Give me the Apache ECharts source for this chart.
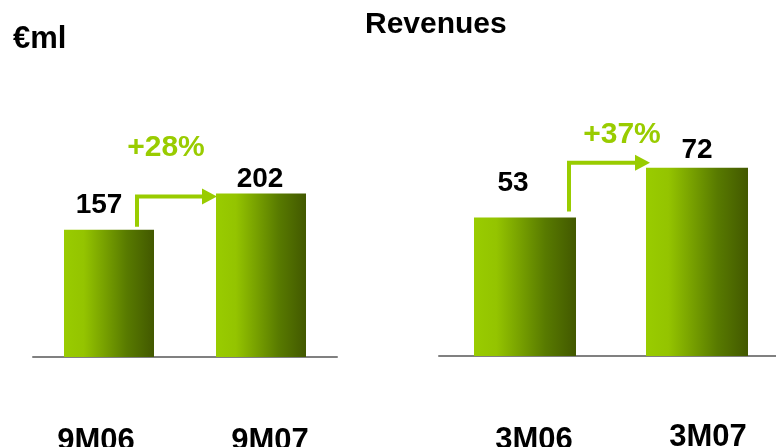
<!DOCTYPE html>
<html>
<head>
<meta charset="utf-8">
<script src="https://cdn.jsdelivr.net/npm/echarts@6/dist/echarts.min.js"></script>
<style>
  html, body { margin: 0; padding: 0; background: #ffffff; }
  #chart { width: 776px; height: 447px; }
</style>
</head>
<body>
<div id="chart"></div>
<script>
// Revenue figures, € millions
const titleText = 'Revenues';
const unitText = '€ml';

const ytdCategories = ['9M06', '9M07'];
const ytdValues = [157, 202];
const ytdGrowth = '+28%';

const qtrCategories = ['3M06', '3M07'];
const qtrValues = [53, 72];
const qtrGrowth = '+37%';

// ---- styling / layout ----
const FONT = '"Liberation Sans", Arial, Helvetica, sans-serif';
const GREEN = '#99cc00';
const AXIS_GREY = '#808080';

function barFill() {
  return new echarts.graphic.LinearGradient(0, 0, 1, 0, [
    { offset: 0, color: '#99cc00' },
    { offset: 0.22, color: '#94c400' },
    { offset: 0.7, color: '#587a00' },
    { offset: 1, color: '#425800' }
  ]);
}

// per-panel placement tweaks for labels and arrows
const panels = [
  {
    cats: ytdCategories, vals: ytdValues, growth: ytdGrowth,
    barWidth: 90,
    labelOffsets: [[-10, -11], [-1, 0]],
    catShift: [-13, 9],
    catRaise: [0, 0],
    arrow: { startDx: 28, startGap: 3, cornerGap: 3, tipDx: -44, textDx: 29, textDy: -34 }
  },
  {
    cats: qtrCategories, vals: qtrValues, growth: qtrGrowth,
    barWidth: 102,
    labelOffsets: [[-12, -20], [0, -3]],
    catShift: [9, 11],
    catRaise: [0, 3],
    arrow: { startDx: 44, startGap: 6, cornerGap: -5, tipDx: -47, textDx: 53, textDy: -13 }
  }
];

function categoryAxis(idx, p) {
  const rich = {};
  p.cats.forEach((c, i) => {
    const s = p.catShift[i];
    rich['c' + i] = {
      fontSize: 31, fontWeight: 'bold', color: '#000', fontFamily: FONT,
      padding: [3 - p.catRaise[i], s < 0 ? -2 * s : 0, 0, s > 0 ? 2 * s : 0]
    };
  });
  return {
    type: 'category', gridIndex: idx, data: p.cats,
    axisTick: { show: false },
    axisLine: { lineStyle: { color: AXIS_GREY, width: 2 } },
    axisLabel: {
      margin: 66, interval: 0, hideOverlap: false,
      formatter: (v, i) => '{c' + i + '|' + v + '}',
      rich: rich
    }
  };
}

function barSeries(idx, p) {
  return {
    type: 'bar', xAxisIndex: idx, yAxisIndex: idx,
    barWidth: p.barWidth,
    itemStyle: { color: barFill() },
    data: p.vals.map((v, i) => ({
      value: v,
      label: { offset: p.labelOffsets[i] }
    })),
    label: {
      show: true, position: 'top', distance: 0,
      fontSize: 28, fontWeight: 'bold', color: '#000', fontFamily: FONT
    },
    silent: true, animation: false
  };
}

const chart = echarts.init(document.getElementById('chart'), null, { renderer: 'canvas' });

chart.setOption({
  backgroundColor: '#ffffff',
  animation: false,
  title: [
    {
      text: titleText, left: 360, top: 5,
      textStyle: { fontSize: 30, fontWeight: 'bold', color: '#000', fontFamily: FONT }
    },
    {
      text: unitText, left: 8, top: 19,
      textStyle: { fontSize: 31, fontWeight: 'bold', color: '#000', fontFamily: FONT }
    }
  ],
  grid: [
    { left: 33, width: 304, top: 114, bottom: 90, containLabel: false, outerBoundsMode: 'none' },
    { left: 439, width: 344, top: 94.5, bottom: 91, containLabel: false, outerBoundsMode: 'none' }
  ],
  xAxis: [categoryAxis(0, panels[0]), categoryAxis(1, panels[1])],
  yAxis: [
    { type: 'value', gridIndex: 0, min: 0, max: 300, show: false },
    { type: 'value', gridIndex: 1, min: 0, max: 100, show: false }
  ],
  series: [barSeries(0, panels[0]), barSeries(1, panels[1])]
});

// Growth arrows, positioned from the bars' pixel geometry
const graphics = [];
panels.forEach((p, idx) => {
  const finder = { gridIndex: idx };
  const top0 = chart.convertToPixel(finder, [p.cats[0], p.vals[0]]);
  const top1 = chart.convertToPixel(finder, [p.cats[1], p.vals[1]]);
  const a = p.arrow;
  const x0 = top0[0] + a.startDx;
  const y0 = top0[1] - a.startGap;
  const yc = top1[1] + a.cornerGap;
  const tipX = top1[0] + a.tipDx;
  const headLen = 15, headHalf = 8;
  graphics.push({
    type: 'polyline', silent: true,
    shape: { points: [[x0, y0], [x0, yc], [tipX - headLen + 1, yc]] },
    style: { stroke: GREEN, lineWidth: 4, fill: null, lineJoin: 'miter' }
  });
  graphics.push({
    type: 'polygon', silent: true,
    shape: { points: [[tipX - headLen, yc - headHalf], [tipX, yc], [tipX - headLen, yc + headHalf]] },
    style: { fill: GREEN }
  });
  graphics.push({
    type: 'text', silent: true,
    x: x0 + a.textDx, y: yc + a.textDy,
    style: {
      text: p.growth, fill: GREEN, font: 'bold 30px ' + FONT,
      textAlign: 'center', textVerticalAlign: 'bottom'
    }
  });
});
chart.setOption({ graphic: graphics });
</script>
</body>
</html>
